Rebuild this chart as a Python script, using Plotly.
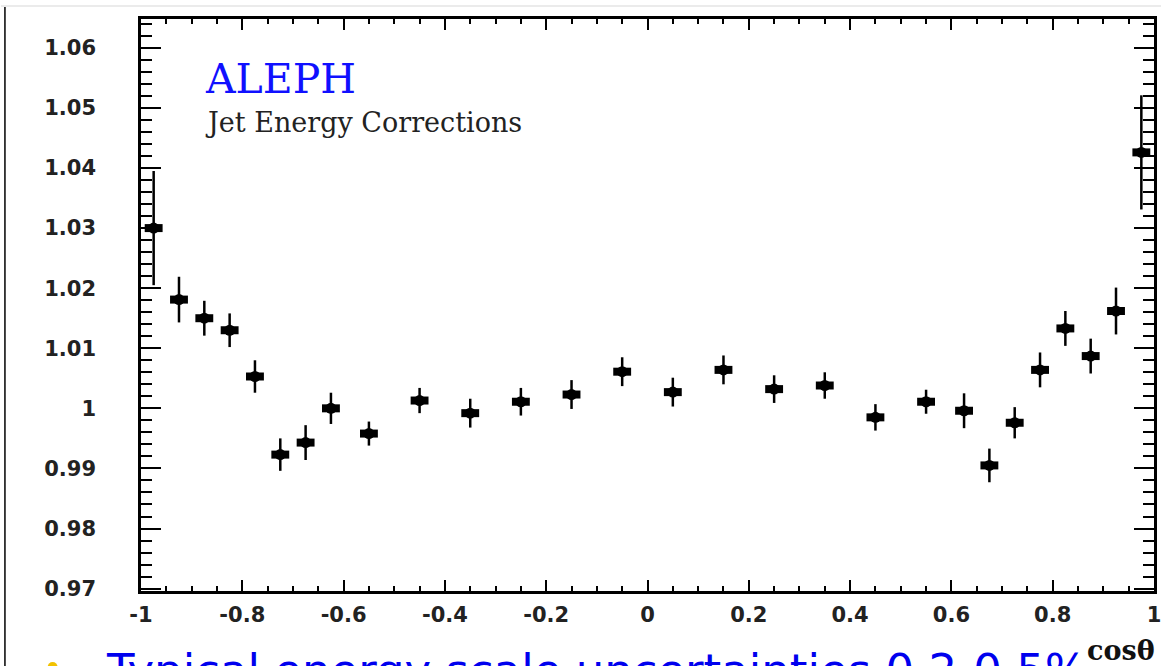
import plotly.graph_objects as go

# ---- data ----
cos_theta = [-0.975, -0.925, -0.875, -0.825, -0.775, -0.725, -0.675, -0.625,
             -0.55, -0.45, -0.35, -0.25, -0.15, -0.05, 0.05, 0.15, 0.25, 0.35,
             0.45, 0.55, 0.625, 0.675, 0.725, 0.775, 0.825, 0.875, 0.925, 0.975]
correction = [1.0300, 1.0181, 1.0150, 1.0130, 1.0053, 0.9923, 0.9943, 1.0000,
              0.9958, 1.0013, 0.9992, 1.0011, 1.0023, 1.0061, 1.0027, 1.0064,
              1.0032, 1.0038, 0.9985, 1.0011, 0.9996, 0.9905, 0.9976, 1.0064,
              1.0133, 1.0087, 1.0162, 1.0426]
correction_err = [0.0095, 0.0038, 0.0029, 0.0028, 0.0027, 0.0027, 0.0029, 0.0026,
                  0.0020, 0.0021, 0.0024, 0.0023, 0.0024, 0.0024, 0.0024, 0.0024,
                  0.0023, 0.0022, 0.0022, 0.0020, 0.0029, 0.0028, 0.0026, 0.0029,
                  0.0029, 0.0029, 0.0039, 0.0095]

x_tick_vals = [-1, -0.8, -0.6, -0.4, -0.2, 0, 0.2, 0.4, 0.6, 0.8, 1]
x_tick_text = ["-1", "-0.8", "-0.6", "-0.4", "-0.2", "0", "0.2", "0.4", "0.6", "0.8", "1"]
y_tick_vals = [0.97, 0.98, 0.99, 1.00, 1.01, 1.02, 1.03, 1.04, 1.05, 1.06]
y_tick_text = ["0.97", "0.98", "0.99", "1", "1.01", "1.02", "1.03", "1.04", "1.05", "1.06"]

title_text = "ALEPH"
subtitle_text = "Jet Energy Corrections"
x_title_text = "cosθ"
bullet_text = "Typical energy scale uncertainties 0.2-0.5%"

# ---- layout geometry ----
W, H = 1168, 666
ML, MR, MT, MB = 141, 7, 19, 75
PW, PH = W - ML - MR, H - MT - MB
X_RANGE = [-1, 1]
Y_RANGE = [0.9696, 1.0648]


def px_x(p):
    return (p - ML) / PW


def px_y(p):
    return (H - MB - p) / PH


marker_half_width = 9 * (X_RANGE[1] - X_RANGE[0]) / PW

fig = go.Figure()
fig.add_trace(go.Scatter(
    x=cos_theta, y=correction, mode="markers",
    marker=dict(symbol="circle", size=11, color="black", line=dict(width=0)),
    error_y=dict(type="data", array=correction_err, visible=True,
                 color="black", thickness=2.5, width=0),
    error_x=dict(type="constant", value=marker_half_width, visible=True,
                 color="black", thickness=8, width=0),
    showlegend=False, hoverinfo="x+y",
))

tick_font = dict(family="DejaVu Sans", size=21, color="#222222", weight="bold")

fig.update_layout(
    width=W, height=H,
    margin=dict(l=ML, r=MR, t=MT, b=MB, pad=0),
    paper_bgcolor="white", plot_bgcolor="white",
    xaxis=dict(
        range=X_RANGE, tickmode="array", tickvals=x_tick_vals, ticktext=x_tick_text,
        ticks="inside", ticklen=11, tickwidth=2, tickcolor="black",
        showline=True, linewidth=2.5, linecolor="black", mirror="ticks",
        showgrid=False, zeroline=False, tickfont=tick_font,
        ticklabelstandoff=3,
        minor=dict(ticks="inside", tick0=-1, dtick=0.05, ticklen=5,
                   tickwidth=2, tickcolor="black", showgrid=False),
    ),
    yaxis=dict(
        range=Y_RANGE, tickmode="array", tickvals=y_tick_vals, ticktext=y_tick_text,
        ticks="inside", ticklen=20, tickwidth=2, tickcolor="black",
        showline=True, linewidth=2.5, linecolor="black", mirror="ticks",
        showgrid=False, zeroline=False, tickfont=tick_font,
        ticklabelstandoff=38,
        minor=dict(ticks="inside", tick0=0.97, dtick=0.002, ticklen=11,
                   tickwidth=2, tickcolor="black", showgrid=False),
    ),
)

fig.add_annotation(
    text=title_text, xref="paper", yref="paper", x=px_x(203), y=px_y(79),
    xanchor="left", yanchor="middle", showarrow=False,
    font=dict(family="DejaVu Serif", size=41, color="#1010ff"),
)
fig.add_annotation(
    text=subtitle_text, xref="paper", yref="paper", x=px_x(203), y=px_y(123),
    xanchor="left", yanchor="middle", showarrow=False,
    font=dict(family="DejaVu Serif", size=27, color="#222222"),
)
fig.add_annotation(
    text=x_title_text, xref="paper", yref="paper", x=px_x(1164), y=px_y(650),
    xanchor="right", yanchor="middle", showarrow=False,
    font=dict(family="DejaVu Serif", size=27, color="#111111", weight="bold"),
)
fig.add_annotation(
    text=bullet_text, xref="paper", yref="paper", x=px_x(104), y=px_y(642),
    xanchor="left", yanchor="top", showarrow=False,
    font=dict(family="DejaVu Sans", size=45, color="#0000ee"),
)

# slide decorations: top rule, left border, yellow bullet
fig.add_shape(type="line", xref="paper", yref="paper",
              x0=px_x(0), x1=px_x(W), y0=px_y(6), y1=px_y(6),
              line=dict(color="#e4e4e4", width=1.5))
fig.add_shape(type="line", xref="paper", yref="paper",
              x0=px_x(4), x1=px_x(4), y0=px_y(7), y1=px_y(H),
              line=dict(color="black", width=1.5))
fig.add_shape(type="circle", xref="paper", yref="paper",
              x0=px_x(47), x1=px_x(57), y0=px_y(662), y1=px_y(672),
              fillcolor="#f2c200", line=dict(width=0))

fig.write_html("out.html")
